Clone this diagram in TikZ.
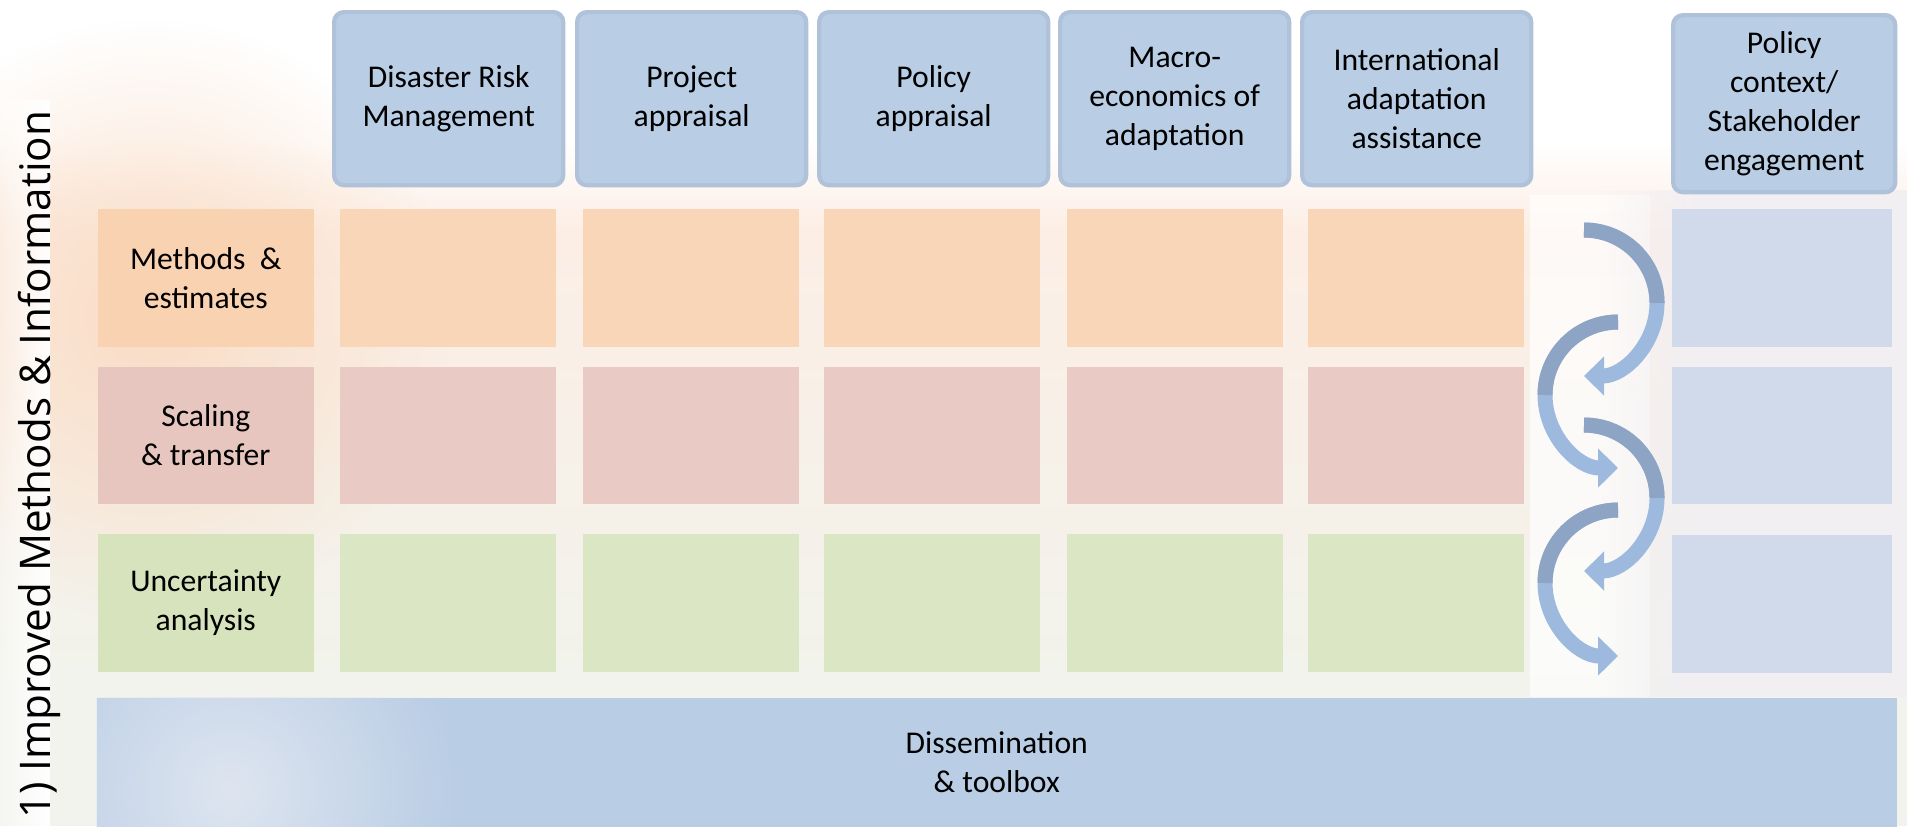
\documentclass[tikz,border=0pt]{standalone}
\usepackage{fontspec}
\setmainfont{Carlito}
\newfontfamily\titulofonte{Open Sans}
\usetikzlibrary{arrows.meta,fadings}

\definecolor{caixa}{HTML}{B9CDE5}
\definecolor{borda}{HTML}{AFC2DA}
\definecolor{pessego}{HTML}{F9D2B2}
\definecolor{pessegoc}{HTML}{FAD6B9}
\definecolor{rosa}{HTML}{E8C6C0}
\definecolor{rosac}{HTML}{EACAC4}
\definecolor{verde}{HTML}{D7E3BC}
\definecolor{verdec}{HTML}{DBE6C4}
\definecolor{azulc}{HTML}{D0DAEA}
\definecolor{fundotopo}{HTML}{FCEEE5}
\definecolor{fundobase}{HTML}{F1F3EC}
\definecolor{lilas}{HTML}{F2EFF3}
\definecolor{brilho}{HTML}{FADDC6}
\definecolor{fitaesc}{HTML}{8DA4C4}
\definecolor{fitaclr}{HTML}{9DB9DE}

\tikzfading[name=esmaece, inner color=transparent!0, outer color=transparent!100]

\tikzset{
  texto/.style={font=\fontsize{9}{11.1}\selectfont, align=center, text=black, inner sep=0pt},
  cabec/.style={texto, fill=caixa, draw=borda, line width=1.2pt, rounded corners=2.8pt,
    minimum width=2.29cm, minimum height=1.73cm, anchor=north west},
  rotulo/.style={texto, minimum width=2.16cm, minimum height=1.38cm, anchor=north west},
  celula/.style={inner sep=0pt, minimum width=2.16cm, minimum height=1.38cm, anchor=north west},
  fita/.style={line width=0.15cm},
}

\begin{document}
\begin{tikzpicture}[x=0.01cm, y=-0.01cm]
    \useasboundingbox (0,0) rectangle (1907,826);
    \clip (0,0) rectangle (1907,826);

    % Fundo com brilhos suaves
    \fill[white] (0,0) rectangle (1907,826);
    \shade[top color=white, bottom color=fundotopo] (0,140) rectangle (1907,230);
    \shade[top color=fundotopo, bottom color=fundobase] (0,230) rectangle (1907,697);
    \fill[fundobase] (0,697) rectangle (1907,826);
    \fill[brilho, path fading=esmaece] (150,320) circle (300);
    \fill[white, path fading=west] (-20,100) rectangle (50,826);
    \fill[white, opacity=0.7] (1530,195) rectangle (1650,697);
    \fill[lilas, path fading=west] (1600,190) rectangle (1700,697);
    \fill[lilas] (1700,190) rectangle (1907,697);

    % Titulo vertical
    \node[rotate=90, anchor=base east, inner sep=0pt, font=\titulofonte\fontsize{12}{14}\selectfont] (titulo) at (50,110) {1) Improved Methods \& Information};

    % Cabecalhos
    \node[cabec] (drm) at (332,10) {Disaster Risk\\Management};
    \node[cabec] (projeto) at (575,10) {Project\\appraisal};
    \node[cabec] (politica) at (817,10) {Policy\\appraisal};
    \node[cabec] (macro) at (1058,10) {Macro-\\economics of\\adaptation};
    \node[cabec] (internac) at (1300,10) {International\\adaptation\\assistance};
    \node[cabec, minimum width=2.22cm, minimum height=1.77cm] (contexto) at (1671,13) {Policy\\context/\\Stakeholder\\engagement};

    % Rotulos das linhas
    \node[rotulo, fill=pessego] (metodos) at (97,208) {Methods\ \ \&\\estimates};
    \node[rotulo, fill=rosa, minimum height=1.37cm] (escala) at (97,366) {Scaling\\\& transfer};
    \node[rotulo, fill=verde] (incerteza) at (97,533) {Uncertainty\\analysis};

    % Celulas
    \node[celula, fill=pessegoc] (m1) at (339,208) {};
    \node[celula, fill=pessegoc] (m2) at (582,208) {};
    \node[celula, fill=pessegoc] (m3) at (823,208) {};
    \node[celula, fill=pessegoc] (m4) at (1066,208) {};
    \node[celula, fill=pessegoc] (m5) at (1307,208) {};
    \node[celula, fill=rosac, minimum height=1.37cm] (e1) at (339,366) {};
    \node[celula, fill=rosac, minimum height=1.37cm] (e2) at (582,366) {};
    \node[celula, fill=rosac, minimum height=1.37cm] (e3) at (823,366) {};
    \node[celula, fill=rosac, minimum height=1.37cm] (e4) at (1066,366) {};
    \node[celula, fill=rosac, minimum height=1.37cm] (e5) at (1307,366) {};
    \node[celula, fill=verdec] (i1) at (339,533) {};
    \node[celula, fill=verdec] (i2) at (582,533) {};
    \node[celula, fill=verdec] (i3) at (823,533) {};
    \node[celula, fill=verdec] (i4) at (1066,533) {};
    \node[celula, fill=verdec] (i5) at (1307,533) {};
    \node[celula, fill=azulc, minimum width=2.2cm] (c1) at (1671,208) {};
    \node[celula, fill=azulc, minimum width=2.2cm, minimum height=1.37cm] (c2) at (1671,366) {};
    \node[celula, fill=azulc, minimum width=2.2cm] (c3) at (1671,534) {};

    % Faixa inferior
    \node[texto, fill=caixa, anchor=north west, minimum width=17.99cm, minimum height=1.29cm] (difusao) at (96,697) {Dissemination\\\& toolbox};
    \begin{scope}
        \clip (difusao.north west) rectangle (difusao.south east);
        \fill[azulc!70!white, path fading=esmaece] (230,790) circle (230);
    \end{scope}

    % Setas curvas
    \draw[fita, fitaclr, -{Triangle[length=2mm, width=3.8mm]}] (1584,230) arc[start angle=-90, end angle=90, radius=73];
    \draw[fita, fitaesc] (1584,230) arc[start angle=-90, end angle=0, radius=73];
    \draw[fita, fitaclr, -{Triangle[length=2mm, width=3.8mm]}] (1618,322) arc[start angle=-90, end angle=-270, radius=73];
    \draw[fita, fitaesc] (1618,322) arc[start angle=-90, end angle=-180, radius=73];
    \draw[fita, fitaclr, -{Triangle[length=2mm, width=3.8mm]}] (1584,425) arc[start angle=-90, end angle=90, radius=73];
    \draw[fita, fitaesc] (1584,425) arc[start angle=-90, end angle=0, radius=73];
    \draw[fita, fitaclr, -{Triangle[length=2mm, width=3.8mm]}] (1618,510) arc[start angle=-90, end angle=-270, radius=73];
    \draw[fita, fitaesc] (1618,510) arc[start angle=-90, end angle=-180, radius=73];
\end{tikzpicture}
\end{document}
